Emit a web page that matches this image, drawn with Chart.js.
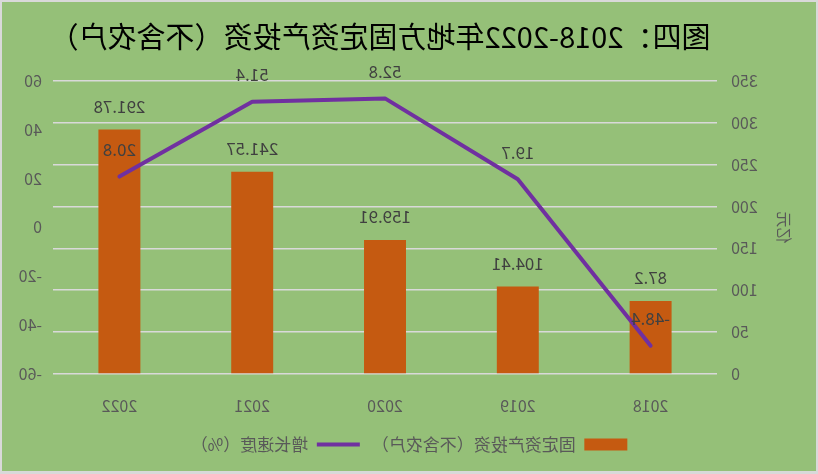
<!DOCTYPE html>
<html><head><meta charset="utf-8">
<script src="https://cdn.jsdelivr.net/npm/chart.js@4.4.1/dist/chart.umd.min.js"></script>
<style>
html,body{margin:0;padding:0;background:#d9d9d9;}
#wrap{position:absolute;left:0;top:0;width:818px;height:474px;box-sizing:border-box;border:2px solid #d9d9d9;border-bottom-width:3px;background:#95c078;transform:scaleX(-1);}
#wrap canvas{display:block;}
</style></head><body>
<div id="wrap"><canvas id="c" width="814" height="469"></canvas></div>
<script>
const categories = ['2018', '2019', '2020', '2021', '2022'];
const investment = [87.2, 104.41, 159.91, 241.57, 291.78];
const growth = [-48.4, 19.7, 52.8, 51.4, 20.8];
const investmentLabel = '固定资产投资（不含农户）';
const growthLabel = '增长速度（%）';
const titleText = '图四：2018-2022年地方固定资产投资（不含农户）';
const leftAxisTitle = '亿元';

const FONT = '"Noto Sans CJK SC", "Noto Sans", sans-serif';
const TICK = '#595959';

const valueLabels = {
  id: 'valueLabels',
  afterDatasetsDraw(chart) {
    const ctx = chart.ctx;
    ctx.save();
    ctx.font = '17px ' + FONT;
    ctx.fillStyle = '#404040';
    ctx.textAlign = 'center';
    ctx.textBaseline = 'middle';
    chart.data.datasets.forEach((ds, i) => {
      const meta = chart.getDatasetMeta(i);
      const off = ds.type === 'line' ? 27 : 23;
      meta.data.forEach((el, j) => {
        ctx.fillText(String(ds.data[j]), el.x, el.y - off);
      });
    });
    ctx.restore();
  }
};

const shiftedTitle = {
  id: 'shiftedTitle',
  afterDraw(chart) {
    const ctx = chart.ctx, tb = chart.titleBlock, ca = chart.chartArea;
    const t = chart.options.plugins.title;
    ctx.save();
    ctx.font = t.font.size + 'px ' + FONT;
    ctx.fillStyle = '#000';
    ctx.textAlign = 'center';
    ctx.textBaseline = 'middle';
    const y = tb.top + t.padding.top + t.font.size * 1.2 / 2;
    ctx.fillText(t.text, (ca.left + ca.right) / 2 + 5, y);
    ctx.restore();
  }
};

new Chart(document.getElementById('c'), {
  data: {
    labels: categories,
    datasets: [
      { type: 'line', label: growthLabel, data: growth, yAxisID: 'y1',
        borderColor: '#7030a0', backgroundColor: '#7030a0', borderWidth: 4,
        pointRadius: 0, tension: 0, borderCapStyle: 'round', borderJoinStyle: 'round', order: 0 },
      { type: 'bar', label: investmentLabel, data: investment, yAxisID: 'y',
        backgroundColor: '#c55a11', borderWidth: 0,
        barPercentage: 0.316, categoryPercentage: 1, order: 1 }
    ]
  },
  options: {
    responsive: false,
    animation: false,
    layout: { padding: { left: 0, right: 0, top: 8, bottom: 8 } },
    plugins: {
      title: { display: true, text: titleText, fullSize: false, color: 'rgba(0,0,0,0)',
        font: { family: FONT, size: 29, weight: 'normal' }, padding: { top: 10, bottom: 26 } },
      legend: { position: 'bottom', reverse: true,
        labels: { color: TICK, font: { family: FONT, size: 17 }, usePointStyle: true,
          pointStyleWidth: 43, boxHeight: 12, padding: 12,
          generateLabels(chart) {
            const items = Chart.defaults.plugins.legend.labels.generateLabels(chart);
            items.forEach(it => {
              const ds = chart.data.datasets[it.datasetIndex];
              it.pointStyle = ds.type === 'line' ? 'line' : 'rect';
              if (ds.type === 'line') { it.lineWidth = 4; it.strokeStyle = '#7030a0'; }
            });
            return items;
          } } },
      tooltip: { enabled: false }
    },
    scales: {
      x: { grid: { display: false }, border: { display: false },
        ticks: { color: TICK, font: { family: FONT, size: 16 }, padding: 14 },
        afterFit(s) { s.height = 50; } },
      y: { position: 'left', min: 0, max: 350,
        ticks: { stepSize: 50, color: TICK, font: { family: FONT, size: 16 }, padding: 14 },
        grid: { color: '#d9d9d9', lineWidth: 1.6, drawTicks: false }, border: { display: false },
        title: { display: true, text: leftAxisTitle, color: TICK, font: { family: FONT, size: 16 }, padding: { top: 22, bottom: 14 } },
        afterFit(s) { s.width = 99; } },
      y1: { position: 'right', min: -60, max: 60,
        ticks: { stepSize: 20, color: TICK, font: { family: FONT, size: 16 }, padding: 11 },
        grid: { display: false, drawTicks: false }, border: { display: false },
        afterFit(s) { s.width = 51; } }
    }
  },
  plugins: [valueLabels, shiftedTitle]
});
</script>
</body></html>
